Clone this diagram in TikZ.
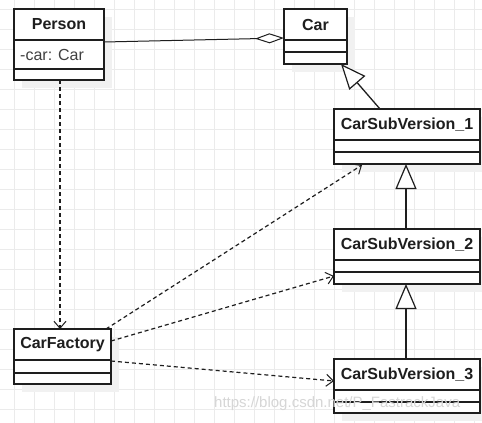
\documentclass[tikz,border=0pt]{standalone}
\usepackage{fontspec}
\setmainfont{Liberation Sans}
\usetikzlibrary{arrows.meta,calc}
\definecolor{gridc}{HTML}{EBEBEB}
\definecolor{shadc}{HTML}{F1F1F1}
\definecolor{inkc}{HTML}{1E1E1E}
\definecolor{wmc}{HTML}{D6D6D6}
\tikzset{
  clsbox/.style={draw=inkc, line width=1.3pt, rectangle, inner sep=0pt, outer sep=0pt, fill=white},
  clsname/.style={font=\fontsize{16}{19}\selectfont\bfseries, text=inkc, inner sep=0pt},
  attr/.style={font=\fontsize{16}{19}\selectfont, text=inkc!85, inner sep=0pt, anchor=west},
  sect/.style={draw=inkc, line width=1.3pt},
  agg/.style={draw=inkc, line width=1pt, -{Diamond[open,fill=white,length=29pt,width=10pt,line width=1pt]}},
  gen/.style={draw=inkc, line width=1.3pt, -{Triangle[open,fill=white,length=25pt,width=21pt,line width=1.2pt]}},
  dep/.style={draw=inkc, line width=1.2pt, dash pattern=on 4pt off 3pt, -{Straight Barb[length=7pt,width=12pt,line width=1pt]}},
}
% #1 name, #2 x, #3 y, #4 w, #5 h1, #6 h2, #7 h3, #8 title
\newcommand\umlcls[8]{%
  \fill[shadc] (#2+8,#3+8) rectangle ++(#4,#5+#6+#7);
  \node[clsbox, minimum width=#4pt, minimum height=#5pt+#6pt+#7pt, anchor=north west] (#1) at (#2,#3) {};
  \node[clsname] (#1-title) at (#2+#4/2,#3+#5/2) {#8};
  \draw[sect] (#2,#3+#5) -- ++(#4,0);
  \draw[sect] (#2,#3+#5+#6) -- ++(#4,0);
}
\begin{document}
\begin{tikzpicture}[x=1pt,y=-1pt]
\useasboundingbox (0,0) rectangle (482,423);
\fill[white] (0,0) rectangle (482,423);
% grid
\foreach \gx in {-6,14,...,494} {\draw[gridc, line width=1pt] (\gx,0) -- (\gx,423);}
\foreach \gy in {9,29,...,429} {\draw[gridc, line width=1pt] (0,\gy) -- (482,\gy);}
% classes
\umlcls{person}{14}{9}{90}{31}{29}{11}{Person}
\node[attr] (person-attr) at (20,54.5) {-car: Car};
\umlcls{car}{284}{9}{63}{31}{12}{12}{Car}
\umlcls{csv1}{334}{109}{146}{31}{12}{12}{CarSubVersion\_1}
\umlcls{csv2}{334}{229}{146}{31}{12}{12}{CarSubVersion\_2}
\umlcls{csv3}{334}{359}{146}{31}{12}{11}{CarSubVersion\_3}
\umlcls{factory}{14}{329}{97}{31}{13}{11}{CarFactory}
% connectors
\draw[agg] ($(person.north east)+(0,33)$) -- ($(car.north west)+(0,29)$);
\draw[gen] ($(csv1.north west)+(46,0)$) -- ($(car.south west)+(57,0)$);
\draw[gen] ($(csv2.north west)+(72,0)$) -- ($(csv1.south west)+(72,0)$);
\draw[gen] ($(csv3.north west)+(72,0)$) -- ($(csv2.south west)+(72,0)$);
\draw[dep] ($(person.south west)+(46,0)$) -- ($(factory.north west)+(46,0)$);
\draw[dep] ($(factory.north east)+(-5,0)$) -- ($(csv1.south west)+(28,1)$);
\draw[dep] ($(factory.north east)+(0,12)$) -- ($(csv2.south west)+(0,-8)$);
\draw[dep] ($(factory.north east)+(0,32)$) -- ($(csv3.north west)+(0,22)$);
% watermark
\node[font=\fontsize{15}{18}\selectfont, text=wmc, anchor=west, inner sep=0pt] (wm) at (214,404) {https://blog.csdn.net/P\_FastrackJava};
\end{tikzpicture}
\end{document}
